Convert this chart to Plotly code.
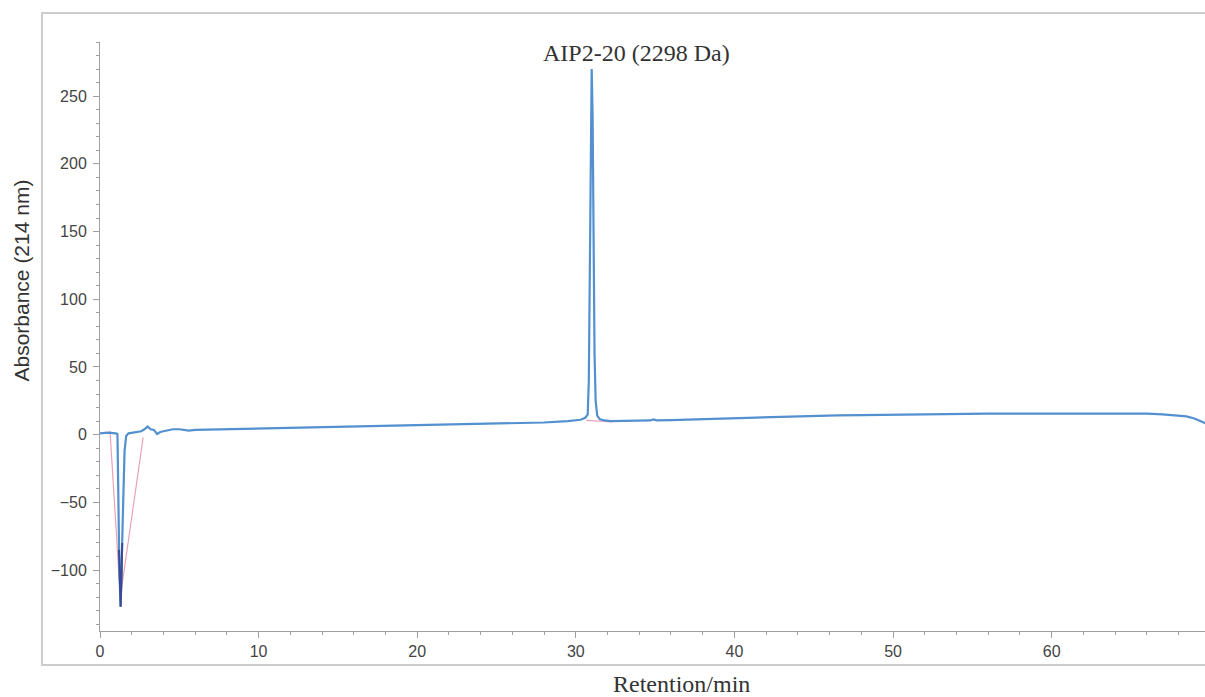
import plotly.graph_objects as go

# Chromatogram trace (retention time in min, absorbance in mAU)
time_min = [0.0, 0.5, 1.0, 1.1, 1.15, 1.22, 1.3, 1.36, 1.45, 1.55, 1.65, 1.8, 2.2, 2.6, 2.8,
            3.0, 3.2, 3.4, 3.6, 3.8, 4.0, 4.3, 4.6, 5.0, 5.3, 5.6, 6.0, 8.0, 10.0, 12.0,
            14.0, 16.0, 18.0, 20.0, 22.0, 24.0, 25.5, 26.0, 28.0, 29.5, 30.3, 30.6, 30.75,
            30.82, 30.88, 30.94, 31.0, 31.06, 31.12, 31.18, 31.25, 31.35, 31.5, 31.8, 32.2,
            33.0, 34.7, 34.9, 35.1, 36.0, 38.0, 40.0, 42.0, 44.0, 45.5, 46.0, 46.5, 48.0,
            50.0, 52.0, 54.0, 56.0, 58.0, 60.0, 62.0, 64.0, 65.0, 66.0, 67.0, 68.0, 68.5,
            69.0, 69.3, 69.7]
absorbance = [1.0, 1.5, 1.0, 0.5, -40, -100, -127, -105, -55, -12, -1, 1.0, 1.5, 2.5, 4.0,
              6.0, 4.0, 3.5, 0.5, 2.0, 2.5, 3.0, 4.0, 4.0, 3.5, 3.0, 3.5, 4.0, 4.5, 5.0,
              5.5, 6.0, 6.5, 7.0, 7.5, 8.0, 8.8, 8.5, 9.0, 10.0, 11.0, 12.5, 15.0,
              40, 120, 230, 270, 235, 140, 60, 25, 14, 11.5, 10.5, 10.0,
              10.0, 10.5, 11.3, 10.6, 10.8, 11.5, 12.5, 13.0, 13.5, 14.0, 14.6, 14.3, 14.5,
              14.8, 15.0, 15.5, 15.5, 15.5, 15.5, 15.5, 16.0, 15.8, 15.5, 15.0, 14.0, 13.5,
              12.0, 10.5, 8.5]

# Dark overlay at the bottom of the injection dip
dip_time = [1.2, 1.24, 1.3, 1.36, 1.4]
dip_abs = [-85, -110, -127, -105, -80]

# Integration baselines (pink)
base_time = [0.63, 1.28, 2.72, None, 30.65, 32.3]
base_abs = [3, -120, -2, None, 10.5, 9.5]

x_ticks = [0, 10, 20, 30, 40, 50, 60]
y_ticks = [-100, -50, 0, 50, 100, 150, 200, 250]

peak_label = "AIP2-20 (2298 Da)"
peak_label_pos = (33.84, 282)

fig = go.Figure()
fig.add_trace(go.Scatter(x=base_time, y=base_abs, mode="lines",
                         line=dict(color="#e9a3b8", width=1.2), showlegend=False,
                         hoverinfo="skip"))
fig.add_trace(go.Scatter(x=time_min, y=absorbance, mode="lines",
                         line=dict(color="#5290cf", width=2.2), showlegend=False))
fig.add_trace(go.Scatter(x=dip_time, y=dip_abs, mode="lines",
                         line=dict(color="#3b4a94", width=2), showlegend=False))

axis_common = dict(showline=True, linecolor="#a0a0a0", linewidth=1, ticks="outside",
                   ticklen=6, tickcolor="#a0a0a0", showgrid=False, zeroline=False,
                   tickfont=dict(family="Liberation Sans, Arial", size=16, color="#444"))

fig.update_xaxes(range=[0, 69.67], tickvals=x_ticks, ticklabelstandoff=0,
                 minor=dict(dtick=2, ticklen=3, tickcolor="#a0a0a0", ticks="outside"),
                 **axis_common)
fig.update_yaxes(range=[-145, 290], tickvals=y_ticks, ticklabelstandoff=3,
                 minor=dict(dtick=10, ticklen=3, tickcolor="#a0a0a0", ticks="outside"),
                 **axis_common)

fig.add_shape(type="rect", xref="paper", yref="paper", x0=-0.0525, x1=1.02,
              y0=-0.0577, y1=1.0492, line=dict(color="#cccccc", width=2), layer="below")

fig.add_annotation(x=peak_label_pos[0], y=peak_label_pos[1], xref="x", yref="y",
                   text=peak_label, showarrow=False, xanchor="center", yanchor="middle",
                   font=dict(family="Liberation Serif, Times New Roman", size=24, color="#333"))
fig.add_annotation(x=0.5264, y=-0.09, xref="paper", yref="paper", text="Retention/min",
                   showarrow=False, xanchor="center", yanchor="middle",
                   font=dict(family="Liberation Serif, Times New Roman", size=24, color="#333"))
fig.add_annotation(x=-0.0706, y=0.595, xref="paper", yref="paper",
                   text="Absorbance (214 nm)", textangle=-90, showarrow=False,
                   xanchor="center", yanchor="middle",
                   font=dict(family="Liberation Sans, Arial", size=21, color="#333"))

fig.update_layout(width=1205, height=697, margin=dict(l=100, r=0, t=42, b=66),
                  paper_bgcolor="white", plot_bgcolor="white")

fig.write_html("out.html")
